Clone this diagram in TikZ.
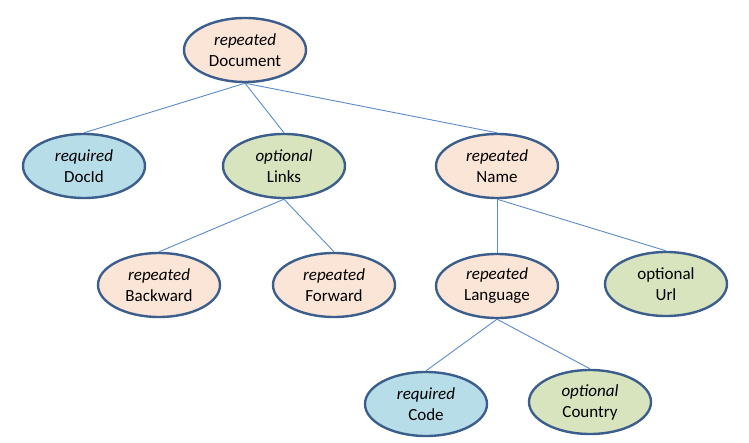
\documentclass[tikz,border=0pt]{standalone}
\usepackage{fontspec}
\setmainfont{Carlito}
\usetikzlibrary{shapes.geometric}
\definecolor{rep}{HTML}{FBE5D6}
\definecolor{req}{HTML}{B7DDE8}
\definecolor{opt}{HTML}{D7E4BD}
\definecolor{bord}{HTML}{3B5E8C}
\definecolor{edge}{HTML}{5B8BC8}
\tikzset{
  fld/.style={ellipse, draw=bord, line width=2.4pt, minimum width=122pt, minimum height=64pt,
    inner sep=0pt, align=center, font=\fontsize{17}{21}\selectfont},
  repf/.style={fld, fill=rep},
  reqf/.style={fld, fill=req},
  optf/.style={fld, fill=opt},
  conn/.style={draw=edge, line width=0.9pt}
}
\begin{document}
\begin{tikzpicture}[x=1pt,y=-1pt]
\useasboundingbox (0,0) rectangle (749,443);
\node[repf] (doc) at (245,50) {\textit{repeated}\\Document};
\node[reqf] (docid) at (84,166) {\textit{required}\\DocId};
\node[optf] (links) at (284,166) {\textit{optional}\\Links};
\node[repf] (name) at (497,166) {\textit{repeated}\\Name};
\node[repf] (back) at (159,285) {\textit{repeated}\\Backward};
\node[repf] (fwd) at (334,285) {\textit{repeated}\\Forward};
\node[repf] (lang) at (497,286) {\textit{repeated}\\Language};
\node[optf] (url) at (666,284) {optional\\Url};
\node[reqf] (code) at (426,404) {\textit{required}\\Code};
\node[optf] (country) at (590,402) {\textit{optional}\\Country};
\draw[conn] (doc.south) -- (docid.north);
\draw[conn] (doc.south) -- (links.north);
\draw[conn] (doc.south) -- (name.north);
\draw[conn] (links.south) -- (back.north);
\draw[conn] (links.south) -- (fwd.north);
\draw[conn] (name.south) -- (lang.north);
\draw[conn] (name.south) -- (url.north);
\draw[conn] (lang.south) -- (code.north);
\draw[conn] (lang.south) -- (country.north);
\end{tikzpicture}
\end{document}
